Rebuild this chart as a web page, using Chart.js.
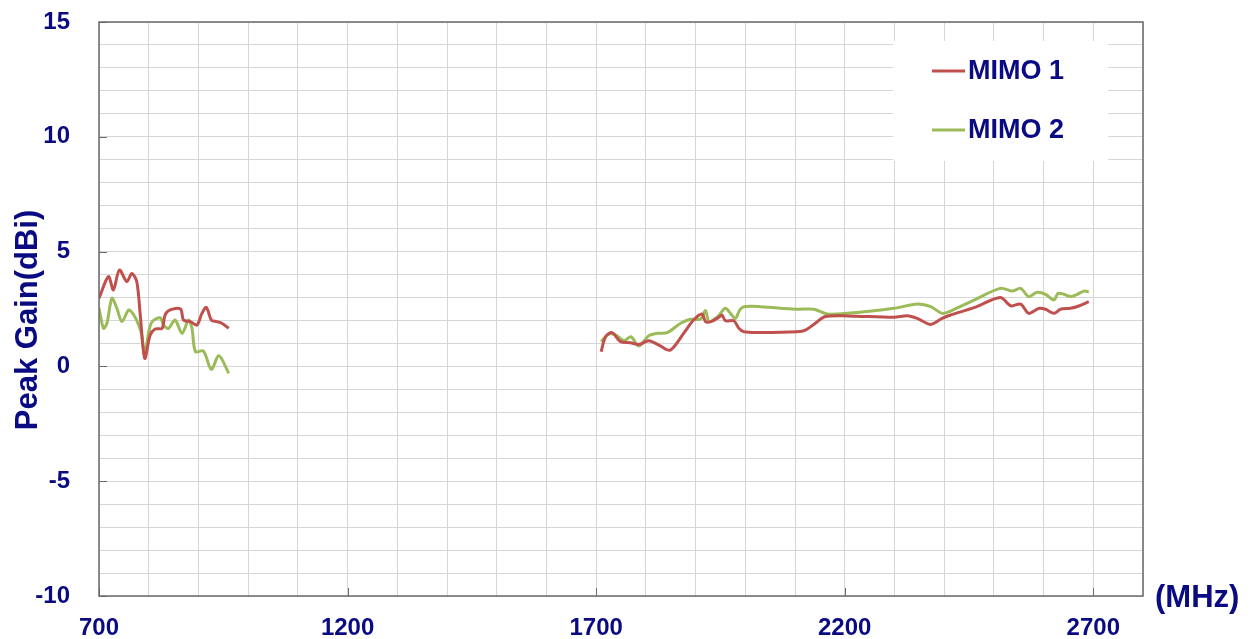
<!DOCTYPE html>
<html><head><meta charset="utf-8">
<script src="https://cdn.jsdelivr.net/npm/chart.js@4/dist/chart.umd.min.js"></script>
<style>html,body{margin:0;padding:0;background:#fff;}</style>
</head><body>
<canvas id="c" width="1252" height="639"></canvas>
<script>
const seriesNames = ['MIMO 1', 'MIMO 2'];
const seriesColors = ['#C0504D', '#9BBB59'];
const xTickLabels = [700, 1200, 1700, 2200, 2700];
const yTickLabels = [15, 10, 5, 0, -5, -10];
const xUnitLabel = '(MHz)';
const yTitle = 'Peak Gain(dBi)';

const freq1Low = [700,719,729,741,756,766,776,783,792,803,813,827,833,843,864,870,884,897,907,916,926,937,947,961];
const gain1Low = [2.97,3.91,3.33,4.2,3.69,4.05,3.69,2.24,0.35,1.37,1.63,1.66,2.24,2.46,2.5,2.02,1.95,1.80,2.31,2.57,2.02,1.95,1.88,1.66];
const freq1High = [1710,1719,1732,1749,1769,1786,1806,1826,1849,1876,1896,1913,1920,1931,1947,1953,1960,1977,1987,1997,2031,2104,2121,2141,2161,2205,2299,2326,2346,2373,2396,2413,2460,2513,2534,2554,2570,2591,2604,2621,2634,2654,2671,2691];
const gain1High = [0.64,1.29,1.47,1.08,1.03,0.96,1.12,0.93,0.71,1.44,2.02,2.28,1.95,1.95,2.14,2.24,1.99,1.99,1.66,1.51,1.48,1.51,1.58,1.88,2.17,2.20,2.14,2.21,2.09,1.83,2.09,2.24,2.56,3.0,2.64,2.71,2.31,2.53,2.49,2.31,2.49,2.53,2.63,2.82];

const freq2Low = [700,709,716,726,736,746,760,770,780,786,792,800,807,823,830,840,853,867,880,887,894,910,926,941,961];
const gain2Low = [2.53,1.66,1.88,2.97,2.53,1.95,2.46,2.24,1.80,1.37,0.5,1.51,1.95,2.12,1.80,1.66,2.02,1.44,2.02,1.66,0.64,0.67,-0.13,0.47,-0.30];
const freq2High = [1710,1725,1739,1756,1770,1786,1806,1823,1843,1870,1890,1910,1920,1927,1943,1960,1970,1980,1989,1997,2031,2101,2138,2165,2205,2299,2346,2373,2396,2413,2460,2513,2537,2554,2570,2587,2604,2621,2629,2641,2654,2668,2681,2691];
const gain2High = [1.08,1.40,1.37,1.12,1.29,0.89,1.34,1.44,1.47,1.88,2.05,2.06,2.43,1.95,2.14,2.53,2.31,2.09,2.46,2.60,2.60,2.49,2.49,2.28,2.31,2.53,2.72,2.60,2.31,2.41,2.89,3.40,3.28,3.40,3.04,3.23,3.14,2.89,3.18,3.14,3.04,3.14,3.28,3.25];

const NAVY = '#0a0a82';
const FONT = '"Liberation Sans", Arial, sans-serif';

function toPoints(fl, gl, fh, gh) {
  const pts = fl.map((f, i) => ({x: f, y: gl[i]}));
  pts.push({x: 1300, y: null});
  return pts.concat(fh.map((f, i) => ({x: f, y: gh[i]})));
}

const datasets = [
  {label: seriesNames[0], data: toPoints(freq1Low, gain1Low, freq1High, gain1High)},
  {label: seriesNames[1], data: toPoints(freq2Low, gain2Low, freq2High, gain2High)}
].map((d, i) => Object.assign(d, {
  borderColor: seriesColors[i], backgroundColor: seriesColors[i],
  borderWidth: 3, pointRadius: 0, tension: 0.3, spanGaps: false, fill: false
}));

const decor = {
  id: 'decor',
  afterDraw(chart) {
    const ctx = chart.ctx, a = chart.chartArea;
    const xs = chart.scales.x, ys = chart.scales.y;
    ctx.save();
    ctx.strokeStyle = '#6a6a6a'; ctx.lineWidth = 1.5;
    ctx.strokeRect(a.left, a.top, a.right - a.left, a.bottom - a.top);
    ctx.lineWidth = 1;
    ctx.beginPath();
    yTickLabels.forEach(v => { const y = Math.round(ys.getPixelForValue(v)) + 0.5; ctx.moveTo(a.left, y); ctx.lineTo(a.left + 8, y); });
    xTickLabels.forEach(v => { const x = Math.round(xs.getPixelForValue(v)) + 0.5; ctx.moveTo(x, a.bottom); ctx.lineTo(x, a.bottom - 8); });
    ctx.stroke();
    ctx.fillStyle = '#fff';
    ctx.fillRect(893, 41, 215, 120);
    const rows = [71, 130];
    seriesNames.forEach((n, i) => {
      ctx.strokeStyle = seriesColors[i]; ctx.lineWidth = 3;
      ctx.beginPath(); ctx.moveTo(932, rows[i]); ctx.lineTo(965, rows[i]); ctx.stroke();
      ctx.fillStyle = NAVY; ctx.font = 'bold 27px ' + FONT;
      ctx.textAlign = 'left'; ctx.textBaseline = 'middle';
      ctx.fillText(n, 968, rows[i] + 1);
    });
    ctx.fillStyle = NAVY; ctx.font = 'bold 31px ' + FONT;
    ctx.textAlign = 'left'; ctx.textBaseline = 'middle';
    ctx.fillText(xUnitLabel, 1155, 598);
    ctx.translate(28, 320); ctx.rotate(-Math.PI / 2);
    ctx.textAlign = 'center';
    ctx.fillText(yTitle, 0, 0);
    ctx.restore();
  }
};

new Chart(document.getElementById('c'), {
  type: 'line',
  data: {datasets},
  options: {
    responsive: false, animation: false,
    layout: {padding: {top: 22, right: 109, left: 0, bottom: 0}},
    plugins: {legend: {display: false}, tooltip: {enabled: false}},
    scales: {
      x: {
        type: 'linear', min: 700, max: 2800,
        afterFit(s) { s.height = 43; s.paddingLeft = 0; s.paddingRight = 0; },
        ticks: {stepSize: 100, maxTicksLimit: 100, autoSkip: false, maxRotation: 0, minRotation: 0, padding: 18,
          color: NAVY, font: {family: FONT, size: 24, weight: 'bold'},
          callback: v => xTickLabels.includes(v) ? String(v) : ''},
        grid: {color: '#d6d6d6', lineWidth: 1, drawTicks: false},
        border: {display: false}
      },
      y: {
        type: 'linear', min: -10, max: 15,
        afterFit(s) { s.width = 99; s.paddingTop = 0; s.paddingBottom = 0; },
        ticks: {stepSize: 1, maxTicksLimit: 100, autoSkip: false, padding: 29, color: NAVY, font: {family: FONT, size: 24, weight: 'bold'},
          callback: v => yTickLabels.includes(v) ? String(v) : ''},
        grid: {color: '#d6d6d6', lineWidth: 1, drawTicks: false},
        border: {display: false}
      }
    }
  },
  plugins: [decor]
});
</script>
</body></html>
